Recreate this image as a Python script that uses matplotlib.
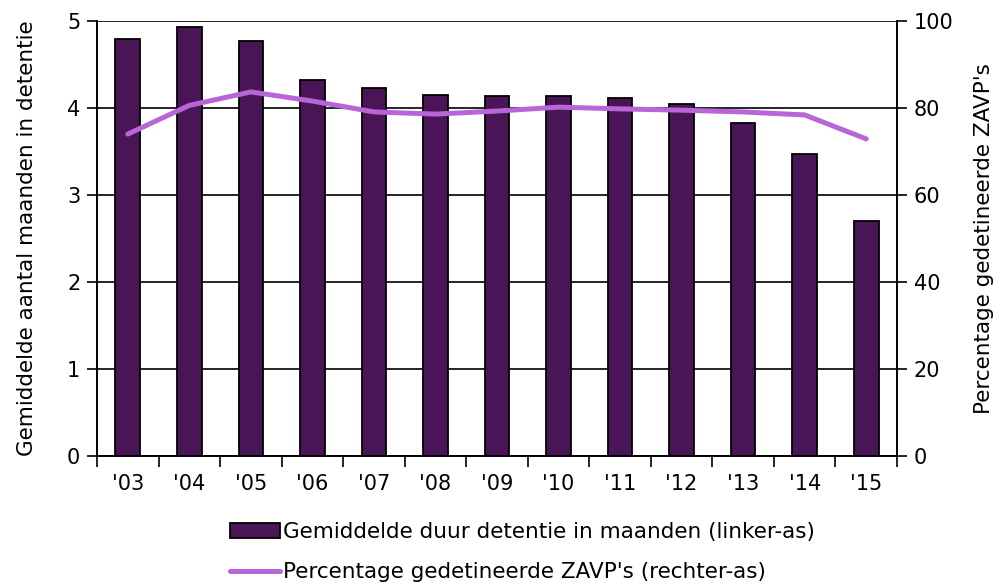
import numpy as np
import matplotlib.pyplot as plt

# data
jaren = ["'03", "'04", "'05", "'06", "'07", "'08", "'09", "'10", "'11", "'12", "'13", "'14", "'15"]
duur = [4.79, 4.93, 4.77, 4.32, 4.23, 4.15, 4.14, 4.14, 4.12, 4.05, 3.83, 3.47, 2.70]
perc = [74.0, 80.6, 83.7, 81.6, 79.1, 78.6, 79.3, 80.2, 79.8, 79.5, 79.1, 78.4, 72.9]

bar_kleur = '#4a1556'
lijn_kleur = '#b865d8'

plt.rcParams['font.family'] = 'DejaVu Sans'
plt.rcParams['font.size'] = 15

fig = plt.figure(figsize=(10.01, 5.87), dpi=100)
ax = fig.add_axes([0.0969, 0.2232, 0.7992, 0.7410])
x = np.arange(len(jaren))

ax.set_axisbelow(True)
ax.grid(axis='y', color='black', linewidth=1.2)
b = ax.bar(x, duur, width=0.4, color=bar_kleur, edgecolor='black', linewidth=1.3,
           label='Gemiddelde duur detentie in maanden (linker-as)', zorder=2)
ax.set_ylim(0, 5)
ax.set_xlim(-0.5, len(jaren) - 0.5)
ax.set_yticks(range(0, 6))
ax.set_xticks(x)
ax.set_xticklabels(jaren)
ax.set_xticks(np.arange(-0.5, len(jaren)), minor=True)
ax.tick_params(axis='x', which='major', length=0, pad=13)
ax.tick_params(axis='x', which='minor', length=8, width=1.2, direction='out')
ax.tick_params(axis='y', length=7, width=1.2, direction='out', pad=5)
ax.set_ylabel('Gemiddelde aantal maanden in detentie', labelpad=22, fontsize=15.5)
for s in ['left', 'bottom', 'right', 'top']:
    ax.spines[s].set_linewidth(1.2)
ax.spines['top'].set_visible(False)

ax2 = ax.twinx()
l, = ax2.plot(x, perc, color=lijn_kleur, linewidth=3.6, solid_capstyle='round',
              label="Percentage gedetineerde ZAVP's (rechter-as)", zorder=3)
ax2.set_ylim(0, 100)
ax2.set_yticks(range(0, 101, 20))
ax2.tick_params(axis='y', length=7, width=1.2, direction='out', pad=5)
ax2.set_ylabel("Percentage gedetineerde ZAVP's", labelpad=15, fontsize=15.5)
for s in ['right', 'left', 'bottom']:
    ax2.spines[s].set_linewidth(1.2)
ax2.spines['top'].set_visible(False)

fig.legend([b, l], [b.get_label(), l.get_label()], loc='upper left',
           bbox_to_anchor=(0.2298, 0.111), frameon=False, ncol=1,
           prop={'size': 15.5},
           handlelength=2.3, handletextpad=0.15, labelspacing=0.95,
           borderaxespad=0, borderpad=0)

fig.savefig('out.png', dpi=100)
